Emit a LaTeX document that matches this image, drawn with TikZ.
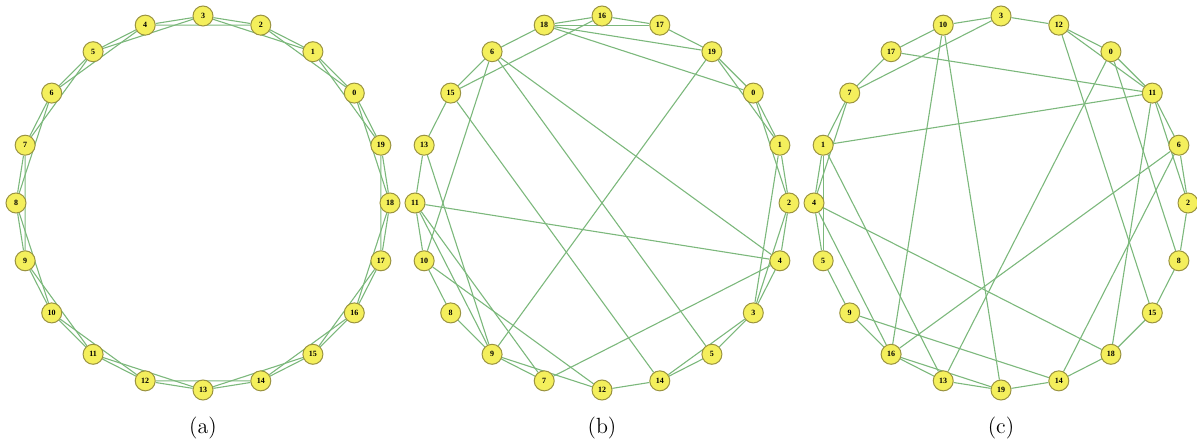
\documentclass[tikz,border=0pt]{standalone}
\usepackage{fontspec}
\newfontfamily\vtxfont{Liberation Serif}
\usetikzlibrary{backgrounds}
\definecolor{vfill}{HTML}{F4EF5C}
\definecolor{vline}{HTML}{9A9340}
\definecolor{elink}{HTML}{7CB87C}

\begin{document}
\begin{tikzpicture}[x=0.5pt,y=0.5pt,
 vtx/.style={circle,draw=vline,line width=0.5pt,fill=vfill,minimum size=10pt,inner sep=0pt,font=\vtxfont\fontsize{4}{4}\selectfont\bfseries},
 edge/.style={draw=elink,line width=0.55pt},
 captext/.style={font=\fontsize{11}{13}\selectfont}]
\useasboundingbox (0,0) rectangle (1197,444);
% (a) ring lattice
\begin{scope}[shift={(203,241)}]
\foreach \i in {0,...,19}
  \node[vtx] (a\i) at ({90+(\i-3)*18}:187) {\i};
\end{scope}
% (b) and (c) rewired, labels clockwise from the top
\begin{scope}[shift={(602,241)}]
\foreach \lab [count=\k from 0] in {16,17,19,0,1,2,4,3,5,14,12,7,9,8,10,11,13,15,6,18}
  \node[vtx] (b\lab) at ({90-18*\k}:187) {\lab};
\end{scope}
\begin{scope}[shift={(1001,241)}]
\foreach \lab [count=\k from 0] in {3,12,0,11,6,2,8,15,18,14,19,13,16,9,5,4,1,7,17,10}
  \node[vtx] (c\lab) at ({90-18*\k}:187) {\lab};
\end{scope}
\node[captext] (capa) at (203,16) {(a)};
\node[captext] (capb) at (602,16) {(b)};
\node[captext] (capc) at (1001,16) {(c)};
\begin{pgfonlayer}{background}
\foreach \i in {0,...,19}{
  \pgfmathtruncatemacro{\nxt}{mod(\i+1,20)}
  \pgfmathtruncatemacro{\skp}{mod(\i+2,20)}
  \draw[edge] (a\i) -- (a\nxt) (a\i) -- (a\skp);
}
\foreach \u/\v in {6/18,18/16,18/17,16/17,18/19,18/0,16/15,17/19,6/15,15/13,
  15/14,6/10,6/5,6/4,19/0,19/1,19/9,0/1,0/2,1/2,1/3,2/3,4/3,3/5,3/14,5/14,
  14/12,7/4,11/4,10/8,8/9,9/7,9/12,10/12,11/9,11/7,13/9,13/11,11/10,2/4}
  \draw[edge] (b\u) -- (b\v);
\foreach \u/\v in {10/17,10/3,3/7,17/7,3/12,17/11,12/0,12/11,12/15,0/11,
  0/13,0/8,11/6,11/1,11/18,11/2,6/2,6/14,6/16,2/8,8/15,15/18,18/14,18/4,
  14/19,14/9,19/13,19/16,13/16,16/9,16/4,9/5,5/4,1/13,10/16,10/19,7/1,1/4,
  7/4,1/5}
  \draw[edge] (c\u) -- (c\v);
\end{pgfonlayer}
\end{tikzpicture}
\end{document}
